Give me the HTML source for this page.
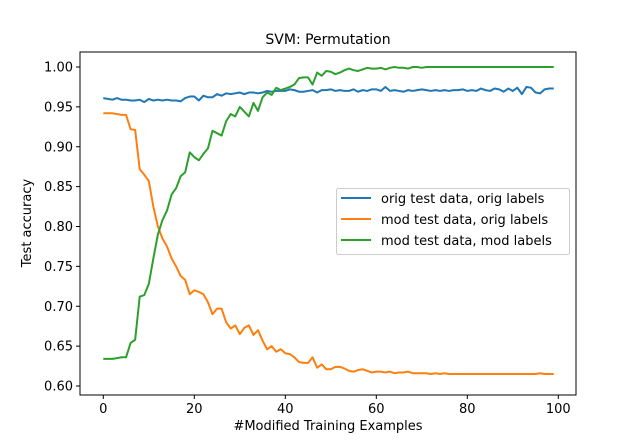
<!DOCTYPE html>
<html><head><meta charset="utf-8"><style>
body{margin:0;background:#fff}
svg text{font-family:"DejaVu Sans","Liberation Sans",sans-serif;fill:#000}
</style></head><body>
<svg id="chart" width="640" height="438" xmlns="http://www.w3.org/2000/svg">
<rect width="640" height="438" fill="#fff"/>
<g id="plot"></g>
<rect x="80" y="52" width="496" height="343" fill="none" stroke="#000" stroke-width="1"/>
<g id="ticks"></g>
<text x="328" y="44" font-size="14" text-anchor="middle">SVM: Permutation</text>
<text x="328" y="430" font-size="13" text-anchor="middle">#Modified Training Examples</text>
<text transform="translate(31,223) rotate(-90)" font-size="13" text-anchor="middle">Test accuracy</text>
<g>
<rect x="336.5" y="188.5" width="233" height="66" rx="2" fill="#fff" fill-opacity="0.8" stroke="#ccc"/>
<line x1="341" y1="198" x2="371" y2="198" stroke="#1f77b4" stroke-width="2"/>
<text x="381" y="203" font-size="13">orig test data, orig labels</text>
<line x1="341" y1="219" x2="371" y2="219" stroke="#ff7f0e" stroke-width="2"/>
<text x="381" y="224" font-size="13">mod test data, orig labels</text>
<line x1="341" y1="240" x2="371" y2="240" stroke="#2ca02c" stroke-width="2"/>
<text x="381" y="245" font-size="13">mod test data, mod labels</text>
</g>
</svg>
<script>
const xTicks=[0,20,40,60,80,100];
const yTicks=[0.60,0.65,0.70,0.75,0.80,0.85,0.90,0.95,1.00];
const yTickLabels=["0.60","0.65","0.70","0.75","0.80","0.85","0.90","0.95","1.00"];
const origOrig=[0.961,0.960,0.959,0.961,0.959,0.959,0.958,0.958,0.959,0.956,0.960,0.958,0.959,0.958,0.959,0.958,0.958,0.957,0.961,0.963,0.963,0.958,0.964,0.962,0.962,0.966,0.964,0.967,0.966,0.967,0.968,0.966,0.968,0.968,0.967,0.968,0.970,0.969,0.970,0.970,0.970,0.972,0.971,0.969,0.969,0.970,0.971,0.968,0.971,0.971,0.972,0.970,0.971,0.970,0.970,0.972,0.969,0.971,0.970,0.972,0.972,0.970,0.975,0.970,0.971,0.970,0.969,0.971,0.970,0.971,0.972,0.971,0.970,0.971,0.970,0.971,0.970,0.971,0.971,0.972,0.970,0.971,0.970,0.973,0.971,0.970,0.973,0.972,0.969,0.973,0.970,0.974,0.966,0.975,0.974,0.968,0.967,0.972,0.973,0.973];
const modOrig=[0.942,0.942,0.942,0.941,0.940,0.940,0.922,0.921,0.872,0.865,0.857,0.825,0.800,0.785,0.775,0.760,0.750,0.738,0.733,0.715,0.720,0.718,0.715,0.705,0.690,0.697,0.697,0.680,0.672,0.676,0.665,0.673,0.676,0.664,0.670,0.657,0.646,0.650,0.643,0.646,0.641,0.640,0.636,0.630,0.629,0.629,0.636,0.623,0.627,0.621,0.621,0.624,0.624,0.622,0.619,0.618,0.620,0.621,0.619,0.617,0.618,0.618,0.617,0.618,0.616,0.617,0.617,0.618,0.616,0.616,0.616,0.616,0.615,0.616,0.615,0.616,0.615,0.615,0.615,0.615,0.615,0.615,0.615,0.615,0.615,0.615,0.615,0.615,0.615,0.615,0.615,0.615,0.615,0.615,0.615,0.615,0.616,0.615,0.615,0.615];
const modMod=[0.634,0.634,0.634,0.635,0.636,0.636,0.654,0.658,0.712,0.714,0.728,0.760,0.790,0.808,0.820,0.840,0.848,0.863,0.868,0.893,0.887,0.883,0.891,0.898,0.920,0.917,0.914,0.932,0.941,0.938,0.950,0.944,0.938,0.955,0.945,0.962,0.968,0.965,0.974,0.971,0.973,0.975,0.978,0.986,0.987,0.987,0.978,0.993,0.989,0.995,0.994,0.991,0.993,0.996,0.998,0.996,0.995,0.997,0.999,0.998,0.998,0.999,0.997,0.999,1.0,0.999,0.999,0.998,1.0,1.0,0.999,1.0,1.0,1.0,1.0,1.0,1.0,1.0,1.0,1.0,1.0,1.0,1.0,1.0,1.0,1.0,1.0,1.0,1.0,1.0,1.0,1.0,1.0,1.0,1.0,1.0,1.0,1.0,1.0,1.0];
const NS='http://www.w3.org/2000/svg';
const xS=v=>103.3+v*4.55;
const yS=v=>67+(1.0-v)*797.5;
const plot=document.getElementById('plot');
const ticks=document.getElementById('ticks');
function line(series,color,name){
  const p=document.createElementNS(NS,'polyline');
  p.setAttribute('points',series.map((v,i)=>xS(i).toFixed(2)+','+yS(v).toFixed(2)).join(' '));
  p.setAttribute('fill','none');p.setAttribute('stroke',color);p.setAttribute('stroke-width','2');
  p.setAttribute('stroke-linejoin','round');
  
  
  plot.appendChild(p);
}
line(origOrig,'#1f77b4','line-orig-test-orig-labels');
line(modOrig,'#ff7f0e','line-mod-test-orig-labels');
line(modMod,'#2ca02c','line-mod-test-mod-labels');
xTicks.forEach(t=>{
  const x=xS(t);
  const l=document.createElementNS(NS,'line');
  l.setAttribute('x1',x);l.setAttribute('x2',x);l.setAttribute('y1',395);l.setAttribute('y2',399);l.setAttribute('stroke','#000');
  
  
  ticks.appendChild(l);
  const tx=document.createElementNS(NS,'text');
  tx.setAttribute('x',x);tx.setAttribute('y',413);tx.setAttribute('font-size','13');tx.setAttribute('text-anchor','middle');
  tx.textContent=t;
  
  
  ticks.appendChild(tx);
});
yTicks.forEach((t,i)=>{
  const y=yS(t);
  const l=document.createElementNS(NS,'line');
  l.setAttribute('x1',76);l.setAttribute('x2',80);l.setAttribute('y1',y);l.setAttribute('y2',y);l.setAttribute('stroke','#000');
  
  
  ticks.appendChild(l);
  const tx=document.createElementNS(NS,'text');
  tx.setAttribute('x',73);tx.setAttribute('y',y+4.5);tx.setAttribute('font-size','13');tx.setAttribute('text-anchor','end');
  tx.textContent=yTickLabels[i];
  
  
  ticks.appendChild(tx);
});
</script>
</body></html>
